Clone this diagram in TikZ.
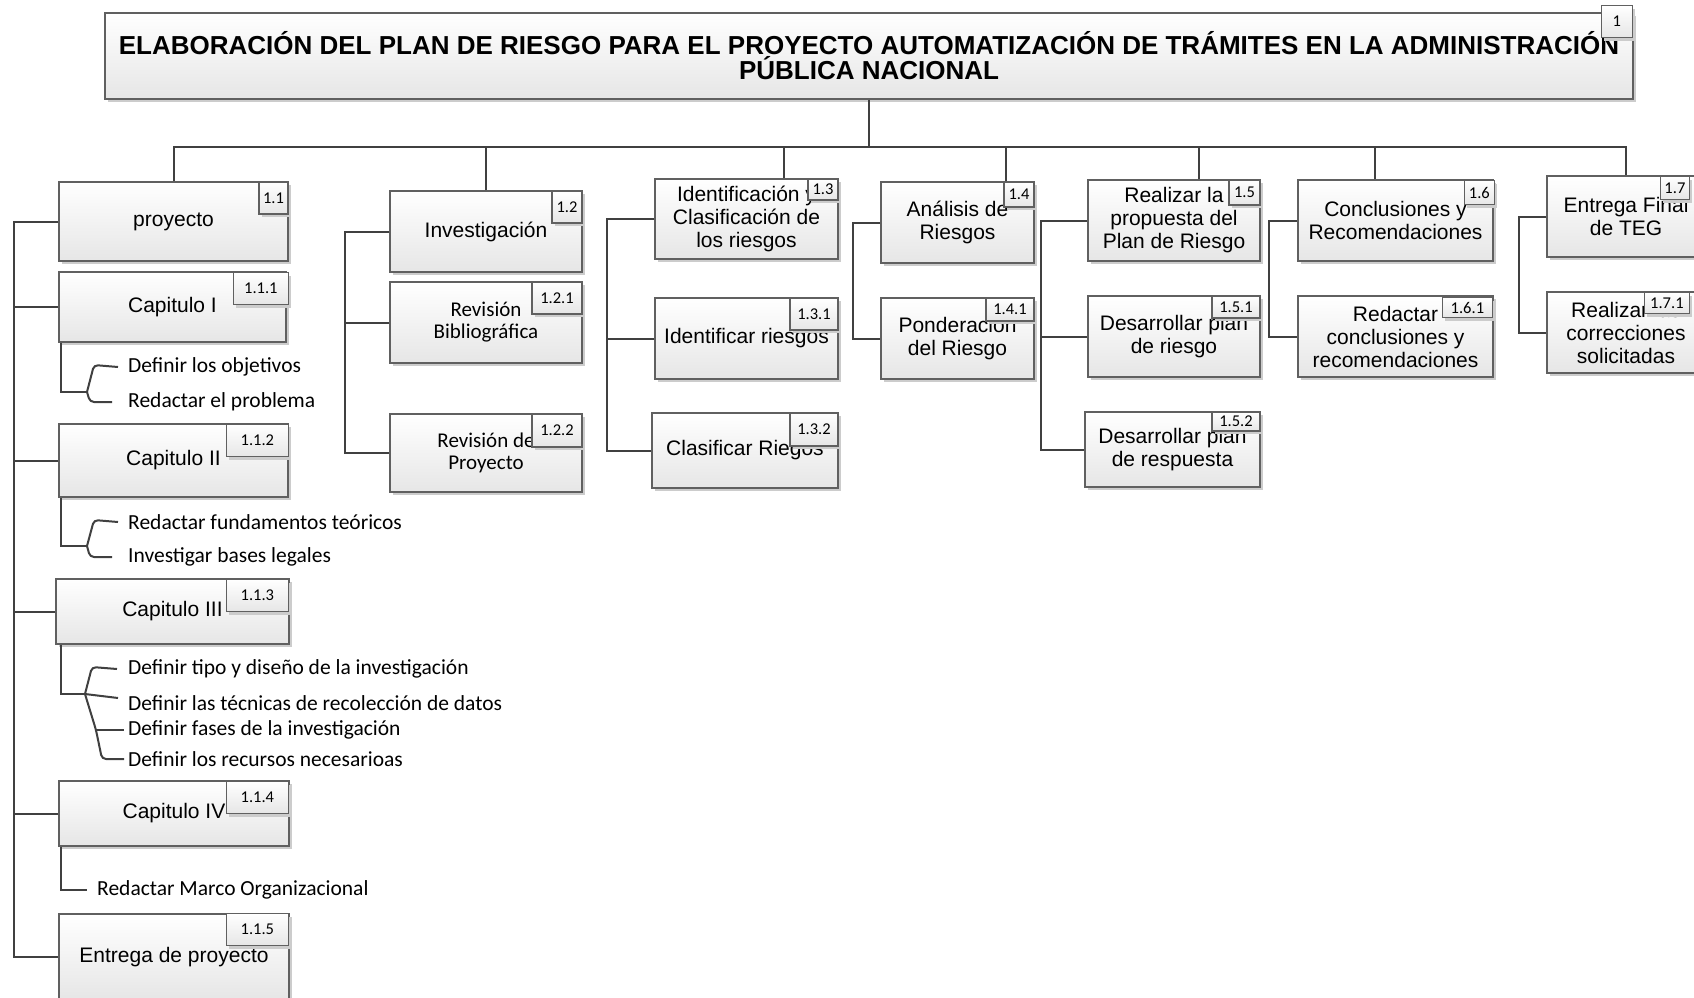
\documentclass[tikz,border=0pt]{standalone}
\usepackage{fontspec}
\setmainfont{Liberation Sans}
\newfontfamily\calibri{Carlito}
\usetikzlibrary{shadows}
\definecolor{boxline}{HTML}{606060}
\definecolor{boxbottom}{HTML}{E6E6E6}
\definecolor{linkcol}{HTML}{404040}
\definecolor{shadowcol}{HTML}{CCCCCC}

\begin{document}
\begin{tikzpicture}[x=1pt, y=-1pt,
  wbs/.style={draw=boxline, line width=1.2pt, top color=white, bottom color=boxbottom,
    drop shadow={shadow xshift=3pt, shadow yshift=-3pt, fill=shadowcol, opacity=1},
    inner sep=0pt, align=center, font=\fontsize{21}{23}\selectfont},
  wbscal/.style={wbs, font=\calibri\fontsize{21}{22}\selectfont},
  numtag/.style={wbs, anchor=north east, font=\calibri\fontsize{16.5}{17}\selectfont},
  task/.style={anchor=west, inner sep=0pt, font=\calibri\fontsize{21.5}{22}\selectfont},
  link/.style={draw=linkcol, line width=2pt},
  brace/.style={link, rounded corners=4pt}]

  \path[use as bounding box, fill=white] (0,0) rectangle (1694,998);

  % titulo
  \node[wbs, minimum width=1528pt, minimum height=86pt,
        font=\bfseries\fontsize{26}{25}\selectfont] (p1) at (869,56)
        {ELABORACIÓN DEL PLAN DE RIESGO PARA EL PROYECTO AUTOMATIZACIÓN DE TRÁMITES EN LA ADMINISTRACIÓN\\PÚBLICA NACIONAL};
  \node[numtag, minimum width=31pt, minimum height=32pt] (n1) at (1633,5) {1};

  % 1.1
  \node[wbs, minimum width=229pt, minimum height=79pt] (p11) at (173.5,221.5) {proyecto};
  \node[numtag, minimum width=29pt, minimum height=32pt] (n11) at (p11.north east) {1.1};
  \node[wbs, minimum width=227pt, minimum height=70pt] (p111) at (172.5,307) {Capitulo I};
  \node[numtag, minimum width=55pt, minimum height=32pt] (n111) at (289,272) {1.1.1};
  \node[wbs, minimum width=229pt, minimum height=73pt] (p112) at (173.5,460.5) {Capitulo II};
  \node[numtag, minimum width=62pt, minimum height=32pt] (n112) at (289,424) {1.1.2};
  \node[wbs, minimum width=233pt, minimum height=65pt] (p113) at (172.5,611.5) {Capitulo III};
  \node[numtag, minimum width=62pt, minimum height=32pt] (n113) at (289,579) {1.1.3};
  \node[wbs, minimum width=230pt, minimum height=65pt] (p114) at (174,813.5) {Capitulo IV};
  \node[numtag, minimum width=62pt, minimum height=32pt] (n114) at (289,781) {1.1.4};
  \node[wbs, minimum width=230pt, minimum height=86pt] (p115) at (174,957) {Entrega de proyecto};
  \node[numtag, minimum width=62pt, minimum height=32pt] (n115) at (289,913) {1.1.5};

  % 1.2
  \node[wbs, minimum width=192pt, minimum height=81pt] (p12) at (486,231.5) {Investigación};
  \node[numtag, minimum width=30pt, minimum height=32pt] (n12) at (p12.north east) {1.2};
  \node[wbscal, minimum width=192pt, minimum height=81pt] (p121) at (486,322.5) {Revisión\\Bibliográfica};
  \node[numtag, minimum width=50pt, minimum height=32pt] (n121) at (p121.north east) {1.2.1};
  \node[wbscal, minimum width=192pt, minimum height=78pt] (p122) at (486,453) {Revisión de\\Proyecto};
  \node[numtag, minimum width=50pt, minimum height=33pt] (n122) at (p122.north east) {1.2.2};

  % 1.3
  \node[wbs, minimum width=183pt, minimum height=80pt] (p13) at (746.5,219) {Identificación y\\Clasificación de\\los riesgos};
  \node[numtag, minimum width=30pt, minimum height=21pt] (n13) at (p13.north east) {1.3};
  \node[wbs, minimum width=183pt, minimum height=81pt] (p131) at (746.5,338.5) {Identificar riesgos};
  \node[numtag, minimum width=48pt, minimum height=32pt] (n131) at (p131.north east) {1.3.1};
  \node[wbs, minimum width=186pt, minimum height=75pt] (p132) at (745,450.5) {Clasificar Riegos};
  \node[numtag, minimum width=48pt, minimum height=33pt] (n132) at (p132.north east) {1.3.2};

  % 1.4
  \node[wbs, minimum width=153pt, minimum height=81pt] (p14) at (957.5,222.5) {Análisis de\\Riesgos};
  \node[numtag, minimum width=30pt, minimum height=25pt] (n14) at (p14.north east) {1.4};
  \node[wbs, minimum width=153pt, minimum height=81pt] (p141) at (957.5,338.5) {Ponderación\\del Riesgo};
  \node[numtag, minimum width=48pt, minimum height=23pt] (n141) at (p141.north east) {1.4.1};

  % 1.5
  \node[wbs, minimum width=172pt, minimum height=81pt] (p15) at (1174,220.5) {Realizar la\\propuesta del\\Plan de Riesgo};
  \node[numtag, minimum width=31pt, minimum height=25pt] (n15) at (p15.north east) {1.5};
  \node[wbs, minimum width=172pt, minimum height=81pt] (p151) at (1174,336.5) {Desarrollar plan\\de riesgo};
  \node[numtag, minimum width=48pt, minimum height=22pt] (n151) at (p151.north east) {1.5.1};
  \node[wbs, minimum width=175pt, minimum height=75pt] (p152) at (1172.5,449.5) {Desarrollar plan\\de respuesta};
  \node[numtag, minimum width=48pt, minimum height=19pt] (n152) at (p152.north east) {1.5.2};

  % 1.6
  \node[wbs, minimum width=195pt, minimum height=81pt] (p16) at (1395.5,220.5) {Conclusiones y\\Recomendaciones};
  \node[numtag, minimum width=30pt, minimum height=24pt] (n16) at (1495,180) {1.6};
  \node[wbs, minimum width=195pt, minimum height=81pt] (p161) at (1395.5,336.5) {Redactar\\conclusiones y\\recomendaciones};
  \node[numtag, minimum width=50pt, minimum height=20pt] (n161) at (1493,297) {1.6.1};

  % 1.7
  \node[wbs, minimum width=158pt, minimum height=81pt] (p17) at (1626,216.5) {Entrega Final\\de TEG};
  \node[numtag, minimum width=29pt, minimum height=23pt] (n17) at (1690,176) {1.7};
  \node[wbs, minimum width=158pt, minimum height=81pt] (p171) at (1626,332.5) {Realizar las\\correcciones\\solicitadas};
  \node[numtag, minimum width=45pt, minimum height=21pt] (n171) at (1690,292) {1.7.1};

  % tareas
  \node[task] (ta1) at (128,367) {Definir los objetivos};
  \node[task] (ta2) at (128,402) {Redactar el problema};
  \node[task] (tb1) at (128,522) {Redactar fundamentos teóricos};
  \node[task] (tb2) at (128,557) {Investigar bases legales};
  \node[task] (tc1) at (128,669) {Definir tipo y diseño de la investigación};
  \node[task] (tc2) at (128,703) {Definir las técnicas de recolección de datos};
  \node[task] (tc3) at (128,730) {Definir fases de la investigación};
  \node[task] (tc4) at (128,759) {Definir los recursos necesarioas};
  \node[task] (td1) at (97,890) {Redactar Marco Organizacional};

  % bus principal
  \coordinate (bus) at (869,147);
  \draw[link] (p1.south) -- (bus);
  \draw[link] (p11.north) |- (bus) -| (p17.north);
  \draw[link] (p12.north) -- (p12.north |- bus);
  \coordinate (d13) at ([xshift=130pt]p13.north west);
  \draw[link] (d13) -- (d13 |- bus);
  \coordinate (d14) at ([xshift=126pt]p14.north west);
  \draw[link] (d14) -- (d14 |- bus);
  \coordinate (d15) at ([xshift=112pt]p15.north west);
  \draw[link] (d15) -- (d15 |- bus);
  \coordinate (d16) at ([xshift=78pt]p16.north west);
  \draw[link] (d16) -- (d16 |- bus);

  % ramas laterales
  \coordinate (s11) at (14,0);
  \draw[link] (p11.west) -| (s11 |- p115.west) -- (p115.west);
  \draw[link] (p111.west) -- (p111.west -| s11);
  \draw[link] (p112.west) -- (p112.west -| s11);
  \draw[link] (p113.west) -- (p113.west -| s11);
  \draw[link] (p114.west) -- (p114.west -| s11);

  \coordinate (s12) at (345,0);
  \draw[link] (p12.west) -| (s12 |- p122.west) -- (p122.west);
  \draw[link] (p121.west) -- (p121.west -| s12);

  \coordinate (s13) at (607,0);
  \draw[link] (p13.west) -| (s13 |- p132.west) -- (p132.west);
  \draw[link] (p131.west) -- (p131.west -| s13);

  \coordinate (s14) at (853,0);
  \draw[link] (p14.west) -| (s14 |- p141.west) -- (p141.west);

  \coordinate (s15) at (1041,0);
  \draw[link] (p15.west) -| (s15 |- p152.west) -- (p152.west);
  \draw[link] (p151.west) -- (p151.west -| s15);

  \coordinate (s16) at (1269,0);
  \draw[link] (p16.west) -| (s16 |- p161.west) -- (p161.west);

  \coordinate (s17) at (1519,0);
  \draw[link] (p17.west) -| (s17 |- p171.west) -- (p171.west);

  % llaves de tareas
  \coordinate (ja) at (87,392);
  \draw[link] ([xshift=3pt]p111.south west) |- (ja);
  \draw[brace] (ja) -- (94,365) -- ([xshift=-10pt]ta1.west);
  \draw[brace] (ja) -- (90,402) -- ([xshift=-16pt]ta2.west);

  \coordinate (jb) at (87,546);
  \draw[link] ([xshift=3pt]p112.south west) |- (jb);
  \draw[brace] (jb) -- (94,520) -- ([xshift=-10pt]tb1.west);
  \draw[brace] (jb) -- (90,557) -- ([xshift=-16pt]tb2.west);

  \coordinate (jc) at (85,694);
  \coordinate (jc3) at (96,730);
  \draw[link] ([xshift=6pt]p113.south west) |- (jc);
  \draw[brace] (jc) -- (92,667) -- ([xshift=-11pt]tc1.west);
  \draw[link] (jc) -- ([xshift=-10pt,yshift=5pt]tc2.west);
  \draw[brace] (jc) -- (jc3) -- (102,759) -- ([xshift=-4pt]tc4.west);
  \draw[link] (jc3) -- ([xshift=-4pt]tc3.west);

  \draw[link] ([xshift=3pt]p114.south west) |- ([xshift=-10pt]td1.west);

\end{tikzpicture}
\end{document}
